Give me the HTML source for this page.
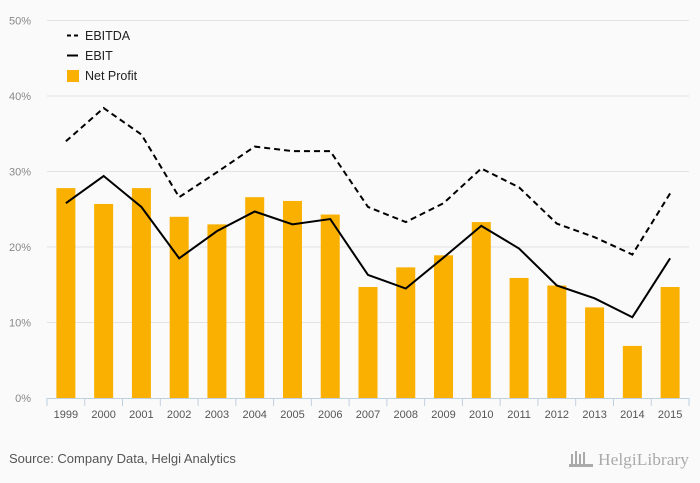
<!DOCTYPE html>
<html><head><meta charset="utf-8"><style>
html,body{margin:0;padding:0;background:#fafafa;width:700px;height:483px;overflow:hidden;font-family:"Liberation Sans",sans-serif}
</style></head><body>
<svg id="chart" width="700" height="483" xmlns="http://www.w3.org/2000/svg" style="display:block">
<rect width="700" height="483" fill="#fafafa"/>
<g id="grid"></g><g id="bars"></g><g id="lines"></g><g id="axis"></g>
<g>
 <line x1="67" y1="35.5" x2="78" y2="35.5" stroke="#000" stroke-width="2" stroke-dasharray="4,3"/>
 <text x="85" y="40" font-size="12.5" fill="#222">EBITDA</text>
 <line x1="67" y1="55.5" x2="78" y2="55.5" stroke="#000" stroke-width="2"/>
 <text x="85" y="60" font-size="12.5" fill="#222">EBIT</text>
 <rect x="67" y="70" width="12" height="12" fill="#f9b000"/>
 <text x="85" y="80" font-size="12.5" fill="#222">Net Profit</text>
</g>
<text x="9" y="463" font-size="13" fill="#555">Source: Company Data, Helgi Analytics</text>
<text x="598" y="465" font-size="17" fill="#aaa" font-family="Liberation Serif,serif" textLength="91" lengthAdjust="spacingAndGlyphs">HelgiLibrary</text>
<g fill="#aaa"><rect x="571" y="454" width="2" height="12"/><rect x="575" y="451" width="2" height="15"/><rect x="579" y="454" width="2" height="12"/><rect x="583" y="452" width="2" height="14"/><rect x="569" y="464" width="24" height="3"/></g>
</svg>
<script>
const categories=["1999","2000","2001","2002","2003","2004","2005","2006","2007","2008","2009","2010","2011","2012","2013","2014","2015"];
const netProfit=[27.8,25.7,27.8,24.0,23.0,26.6,26.1,24.3,14.7,17.3,18.9,23.3,15.9,14.9,12.0,6.9,14.7];
const ebit=[25.8,29.4,25.3,18.5,22.1,24.7,23.0,23.7,16.3,14.5,18.6,22.8,19.8,14.9,13.2,10.7,18.5];
const ebitda=[34.0,38.4,34.9,26.6,29.9,33.3,32.7,32.7,25.3,23.3,25.8,30.4,27.9,23.1,21.3,19.0,27.1];
const yTicks=[0,10,20,30,40,50];
const NS="http://www.w3.org/2000/svg";
const L=47,R=689,T=20.5,B=398,YMAX=50;
const step=(R-L)/categories.length;
const x=i=>L+step*(i+0.5);
const y=v=>B-(v/YMAX)*(B-T);
function mk(tag,attrs,parent){const e=document.createElementNS(NS,tag);for(const k in attrs)e.setAttribute(k,attrs[k]);parent.appendChild(e);return e;}
const grid=document.getElementById('grid'),bars=document.getElementById('bars'),lines=document.getElementById('lines'),axis=document.getElementById('axis');
yTicks.forEach(t=>{
 if(t>0){const g=mk('line',{x1:L,x2:R,y1:y(t),y2:y(t),stroke:'#e3e3e3','stroke-width':1},grid);
 
 }
 const tx=mk('text',{x:31,y:y(t)+4,'font-size':11,fill:'#888','text-anchor':'end'},grid);
 tx.textContent=t+'%';
 
 
});
netProfit.forEach((v,i)=>{
 const r=mk('rect',{x:x(i)-9.5,y:y(v),width:19,height:B-y(v),fill:'#f9b000'},bars);
 
 
});
const p1=mk('polyline',{points:ebitda.map((v,i)=>x(i)+','+y(v)).join(' '),fill:'none',stroke:'#000','stroke-width':2,'stroke-dasharray':'6,4'},lines);


const p2=mk('polyline',{points:ebit.map((v,i)=>x(i)+','+y(v)).join(' '),fill:'none',stroke:'#000','stroke-width':2},lines);


const ax=mk('line',{x1:L,x2:R,y1:B+0.5,y2:B+0.5,stroke:'#c0d0e0','stroke-width':1},axis);


for(let i=0;i<=categories.length;i++){
 const tk=mk('line',{x1:L+step*i,x2:L+step*i,y1:B,y2:B+8,stroke:'#c0d0e0','stroke-width':1},axis);
 
 
}
categories.forEach((c,i)=>{
 const t=mk('text',{x:x(i),y:418,'font-size':11,fill:'#555','text-anchor':'middle'},axis);
 t.textContent=c;
 
 
});
</script>
</body></html>
